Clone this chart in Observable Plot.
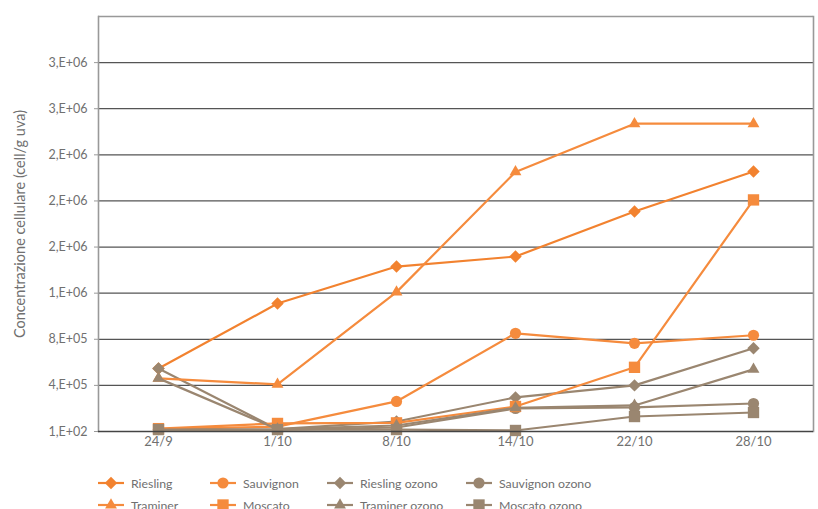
<!DOCTYPE html>
<html>
<head>
<meta charset="utf-8">
<script src="https://cdn.jsdelivr.net/npm/d3@7"></script>
<script src="https://cdn.jsdelivr.net/npm/@observablehq/plot@0.6"></script>
<style>
  html, body { margin: 0; padding: 0; background: #fff; }
  body { width: 818px; height: 509px; overflow: hidden; position: relative; font-family: Lato, "Open Sans", sans-serif; }
  #chart { position: absolute; left: 0; top: 0; }
  .legend { position: absolute; left: 0; top: 0; width: 818px; height: 509px; pointer-events: none; }
  .item { position: absolute; display: flex; align-items: center; font-size: 12.3px; color: #707070; white-space: nowrap; }
  .item svg { margin-right: 7px; }
</style>
</head>
<body>
<div id="chart"></div>
<div class="legend" id="legend"></div>
<script>
const dates = ["24/9", "1/10", "8/10", "14/10", "22/10", "28/10"];

const riesling        = [546000, 1110000, 1431000, 1518000, 1909000, 2256000];
const sauvignon       = [20000, 42000, 261000, 852000, 765000, 835000];
const rieslingOzono   = [546000, 20000, 87000, 296000, 400000, 722000];
const sauvignonOzono  = [17000, 17000, 35000, 200000, 209000, 243000];
const traminer        = [461000, 409000, 1209000, 2252000, 2670000, 2670000];
const moscato         = [25000, 70000, 75000, 217000, 557000, 2009000];
const traminerOzono   = [461000, 20000, 52000, 205000, 226000, 539000];
const moscatoOzono    = [17000, 17000, 17000, 9000, 130000, 165000];

const yTicks = [100, 400100, 800100, 1200100, 1600100, 2000100, 2400100, 2800100, 3200100];
const yTickLabels = ["1,E+02", "4,E+05", "8,E+05", "1,E+06", "2,E+06", "2,E+06", "2,E+06", "3,E+06", "3,E+06"];
const yTop = 3600100;

const yTitle = "Concentrazione cellulare (cell/g uva)";

const ORANGE = "#F58B3D";
const BROWN = "#9A8670";

const seriesDefs = [
  {name: "Riesling", values: riesling, color: "#F2822F", symbol: "diamond2"},
  {name: "Sauvignon", values: sauvignon, color: ORANGE, symbol: "circle"},
  {name: "Riesling ozono", values: rieslingOzono, color: BROWN, symbol: "diamond2"},
  {name: "Sauvignon ozono", values: sauvignonOzono, color: BROWN, symbol: "circle"},
  {name: "Traminer", values: traminer, color: ORANGE, symbol: "triangle"},
  {name: "Moscato", values: moscato, color: ORANGE, symbol: "square"},
  {name: "Traminer ozono", values: traminerOzono, color: BROWN, symbol: "triangle"},
  {name: "Moscato ozono", values: moscatoOzono, color: BROWN, symbol: "square"}
];

const rows = seriesDefs.flatMap((s, si) => s.values.map((v, i) => ({series: s.name, si, date: dates[i], value: v, color: s.color, symbol: s.symbol})));

const symR = {diamond2: 5.6, circle: 5.6, triangle: 4.4, square: 6.4};

const chart = Plot.plot({
  width: 818,
  height: 460,
  marginLeft: 98,
  marginRight: 5,
  marginTop: 16,
  marginBottom: 29,
  style: {fontFamily: "Lato, 'Open Sans', sans-serif", background: "white"},
  x: {type: "point", domain: dates, padding: 0.5},
  y: {domain: [100, yTop], range: [431, 16]},
  marks: [
    Plot.ruleY(yTicks.slice(1), {stroke: "#555", strokeWidth: 1.2}),
    Plot.ruleY([yTop], {stroke: "#999", strokeWidth: 1.3}),
    Plot.axisY({ticks: yTicks, tickFormat: (d) => yTickLabels[yTicks.indexOf(d)], tickSize: 4, tickPadding: 7, fontSize: 12.5, fill: "#707070", stroke: "#999", label: null}),
    Plot.axisX({tickSize: 0, tickPadding: 5, fontSize: 13, fill: "#707070", label: null}),
    Plot.frame({anchor: "left", stroke: "#999", strokeWidth: 1.6}),
    Plot.frame({anchor: "right", stroke: "#999", strokeWidth: 1.6}),
    ...seriesDefs.flatMap(s => {
      const d = rows.filter(r => r.series === s.name);
      return [
        Plot.line(d, {x: "date", y: "value", stroke: s.color, strokeWidth: 2.2}),
        Plot.dot(d, {x: "date", y: "value", symbol: () => s.symbol, fill: s.color, stroke: "none", r: symR[s.symbol]})
      ];
    }),
    Plot.ruleY([100], {stroke: "#444", strokeWidth: 1.3}),
    Plot.text([yTitle], {frameAnchor: "left", dx: -78, dy: 0, rotate: -90, fontSize: 14.5, fill: "#707070", textAnchor: "middle"})
  ]
});
document.getElementById("chart").appendChild(chart);

// Legend
const legend = document.getElementById("legend");
const colX = [98, 210, 327, 466];
const rowY = [483, 505];
const typeMap = {diamond2: d3.symbolDiamond2, circle: d3.symbolCircle, triangle: d3.symbolTriangle, square: d3.symbolSquare};
seriesDefs.forEach((s, i) => {
  const col = i % 4, row = Math.floor(i / 4);
  const div = document.createElement("div");
  div.className = "item";
  div.style.left = colX[col] + "px";
  div.style.top = (rowY[row] - 10) + "px";
  div.style.height = "20px";
  const r = symR[s.symbol];
  const path = d3.symbol(typeMap[s.symbol], Math.PI * r * r)();
  div.innerHTML = `<svg width="26" height="20"><line x1="0" x2="26" y1="10" y2="10" stroke="${s.color}" stroke-width="2.2"/><path transform="translate(13,10)" d="${path}" fill="${s.color}"/></svg><span>${s.name}</span>`;
  legend.appendChild(div);
});
</script>
</body>
</html>
